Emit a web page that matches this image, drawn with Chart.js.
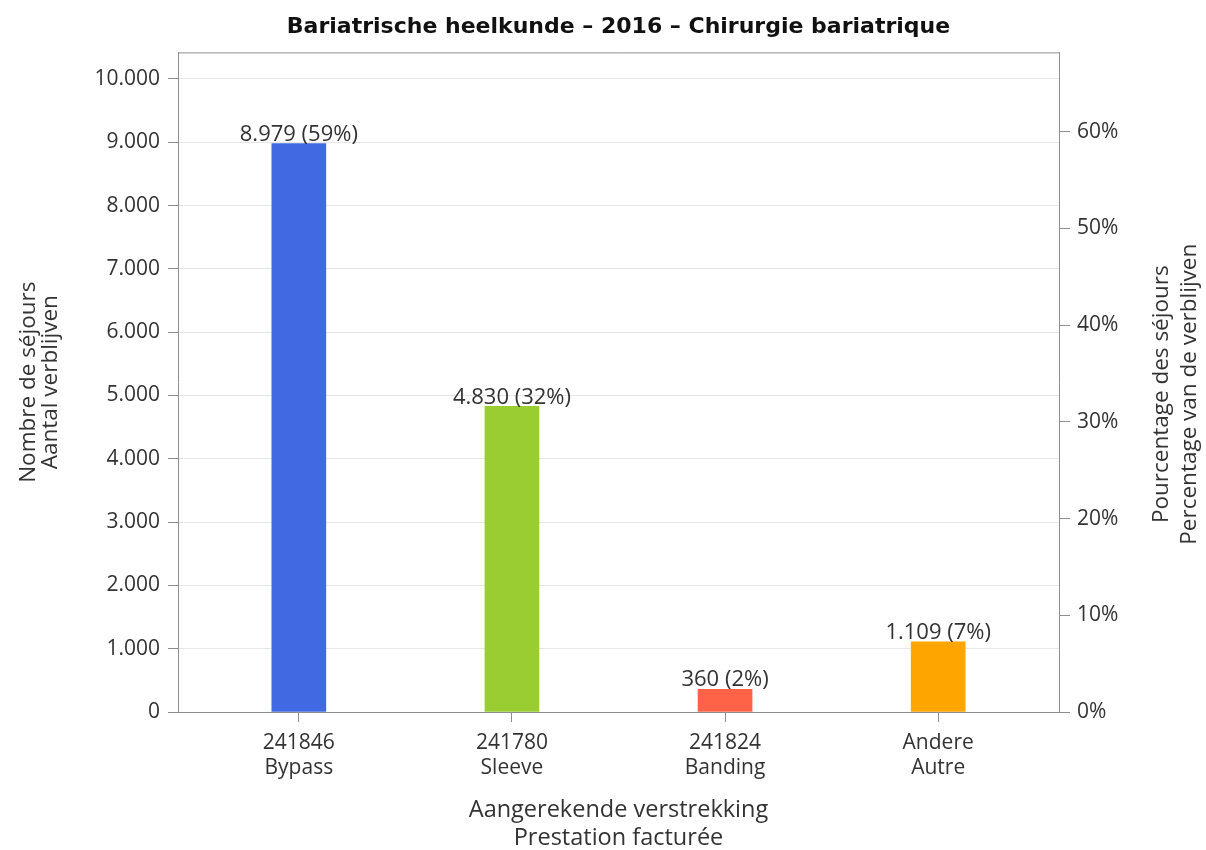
<!DOCTYPE html>
<html>
<head>
<meta charset="utf-8">
<script src="https://cdn.jsdelivr.net/npm/chart.js@4.4.0/dist/chart.umd.min.js"></script>
<style>
  html, body { margin: 0; padding: 0; background: #fff; }
  #wrap { width: 1206px; height: 850px; }
</style>
</head>
<body>
<div id="wrap"><canvas id="myChart" width="1206" height="850"></canvas></div>
<script>
const codes = ['241846', '241780', '241824', 'Andere'];
const names = ['Bypass', 'Sleeve', 'Banding', 'Autre'];
const counts = [8979, 4830, 360, 1109];
const colors = ['#4169E1', '#9ACD32', '#FF6347', '#FFA500'];
const countTicks = [0, 1000, 2000, 3000, 4000, 5000, 6000, 7000, 8000, 9000, 10000];
const pctTicks = [0, 10, 20, 30, 40, 50, 60];

const total = counts.reduce((a, b) => a + b, 0);
const yMax = 10420;

const fmt = (n) => String(n).replace(/\B(?=(\d{3})+(?!\d))/g, '.');

const tickFont = { family: 'Open Sans', size: 21, lineHeight: 1.22 };
const axisGrey = '#8f8f8f';
const textColor = '#333';

const barLabels = {
  id: 'barLabels',
  afterDatasetsDraw(chart) {
    const ctx = chart.ctx;
    const meta = chart.getDatasetMeta(0);
    ctx.save();
    ctx.font = '22px "Open Sans"';
    ctx.fillStyle = textColor;
    ctx.textAlign = 'center';
    ctx.textBaseline = 'bottom';
    meta.data.forEach((bar, i) => {
      const pct = Math.round(counts[i] / total * 100);
      ctx.fillText(fmt(counts[i]) + ' (' + pct + '%)', bar.x, bar.y + 2);
    });
    ctx.restore();
  }
};

const frame = {
  id: 'frame',
  afterDraw(chart) {
    const { ctx, chartArea: a } = chart;
    ctx.save();
    ctx.strokeStyle = axisGrey;
    ctx.lineWidth = 1;
    ctx.beginPath();
    ctx.moveTo(a.left, a.top + 0.5);
    ctx.lineTo(a.right, a.top + 0.5);
    ctx.stroke();
    // right axis title, reading bottom to top
    ctx.fillStyle = textColor;
    ctx.font = '22.5px "Open Sans"';
    ctx.textAlign = 'center';
    ctx.textBaseline = 'middle';
    ctx.translate(1176, (a.top + a.bottom) / 2 + 12);
    ctx.rotate(-Math.PI / 2);
    ctx.fillText('Pourcentage des séjours', 0, -14);
    ctx.fillText('Percentage van de verblijven', 0, 14);
    ctx.restore();
  }
};

const config = {
  type: 'bar',
  data: {
    datasets: [{
      data: counts.map((v, i) => ({ x: i, y: v })),
      backgroundColor: colors,
      borderWidth: 0,
      barThickness: 54,
      yAxisID: 'y',
    }],
  },
  options: {
    responsive: false,
    animation: false,
    layout: { padding: 0 },
    plugins: {
      legend: { display: false },
      tooltip: { enabled: false },
      title: {
        display: true,
        fullSize: false,
        text: 'Bariatrische heelkunde – 2016 – Chirurgie bariatrique',
        color: '#111',
        font: { family: 'DejaVu Sans', size: 22, weight: 'bold', lineHeight: 1.2 },
        padding: { top: 14, bottom: 12 },
      },
    },
    scales: {
      x: {
        type: 'linear',
        offset: false,
        min: -0.567,
        max: 3.567,
        afterBuildTicks: (scale) => {
          scale.ticks = codes.map((c, i) => ({ value: i }));
        },
        afterFit: (scale) => { scale.height = 138; },
        grid: { offset: false, drawOnChartArea: false, tickLength: 10, color: axisGrey, tickColor: axisGrey },
        border: { display: true, color: axisGrey },
        ticks: {
          color: textColor,
          font: tickFont,
          padding: 8,
          maxRotation: 0,
          autoSkip: false,
          callback: (v) => [codes[v], names[v]],
        },
        title: {
          display: true,
          text: ['Aangerekende verstrekking', 'Prestation facturée'],
          color: textColor,
          font: { family: 'Open Sans', size: 23.5, lineHeight: 1.18 },
          padding: { top: 4, bottom: -2 },
        },
      },
      y: {
        position: 'left',
        min: 0,
        max: yMax,
        afterBuildTicks: (scale) => {
          scale.ticks = countTicks.map((v) => ({ value: v }));
        },
        afterFit: (scale) => { scale.width = 178; },
        grid: { color: '#e6e6e6', tickLength: 10, tickColor: axisGrey },
        border: { display: true, color: axisGrey },
        ticks: {
          color: textColor,
          font: tickFont,
          padding: 8,
          callback: (v) => fmt(v),
        },
        title: {
          display: true,
          text: ['Nombre de séjours', 'Aantal verblijven'],
          color: textColor,
          font: { family: 'Open Sans', size: 22.5, lineHeight: 1.0 },
          padding: { top: 17, bottom: 0 },
        },
      },
      y2: {
        position: 'right',
        min: 0,
        max: yMax / total * 100,
        afterBuildTicks: (scale) => {
          scale.ticks = pctTicks.map((v) => ({ value: v }));
        },
        afterFit: (scale) => { scale.width = 147; },
        grid: { drawOnChartArea: false, tickLength: 11, color: axisGrey, tickColor: axisGrey },
        border: { display: true, color: axisGrey },
        ticks: {
          color: textColor,
          font: tickFont,
          padding: 7,
          callback: (v) => v + '%',
        },
      },
    },
  },
  plugins: [barLabels, frame],
};

const myChart = new Chart(document.getElementById('myChart').getContext('2d'), config);
</script>
</body>
</html>
